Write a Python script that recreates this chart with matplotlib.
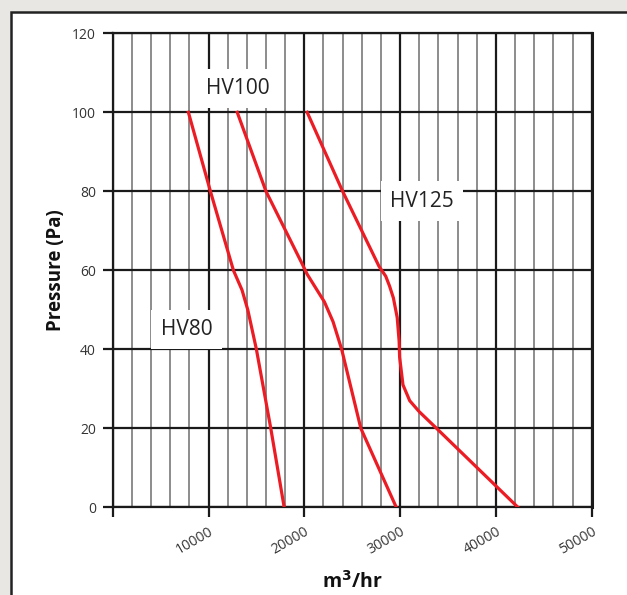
import numpy as np
import matplotlib.pyplot as plt
from matplotlib.patches import Rectangle
from matplotlib.ticker import MultipleLocator

plt.rcParams['font.family'] = ['Open Sans', 'DejaVu Sans']

# Fan curves: airflow (m3/hr) vs pressure (Pa)
hv80_flow = [7900, 10200, 12600, 13500, 14100, 15000, 16500, 17900]
hv80_pres = [100, 80, 60, 55, 50, 40, 20, 0]

hv100_flow = [13000, 16000, 19700, 20300, 21200, 22100, 23000, 23900,
              25900, 29600]
hv100_pres = [100, 80, 62, 59, 55.5, 52, 47, 40, 20, 0]

hv125_flow = [20300, 24000, 27800, 28500, 28900, 29300, 29700, 29900, 29950,
              30300, 31000, 32000, 33800, 42300]
hv125_pres = [100, 80, 61, 58.5, 56, 53, 48, 42, 38, 31, 27, 24.2, 20, 0]

xticks = [0, 10000, 20000, 30000, 40000, 50000]
xtick_labels = ['', '10000', '20000', '30000', '40000', '50000']
yticks = [0, 20, 40, 60, 80, 100, 120]

W, H = 627, 595
fig = plt.figure(figsize=(W / 100, H / 100), dpi=100)
fig.patch.set_facecolor('#e9e7e3')

# white card with dark border, running off the right/bottom edge
card = Rectangle((10.5 / W, -0.1), 2.0, 1 - 11.5 / H + 0.1,
                 transform=fig.transFigure, facecolor='white',
                 edgecolor='#222222', linewidth=1.8, zorder=-5)
fig.add_artist(card)

ax = fig.add_axes([112.7 / W, 1 - 507.3 / H, 479 / W, 474 / H])
ax.set_zorder(2)
ax.set_xlim(0, 50000)
ax.set_ylim(0, 120)

ax.xaxis.set_minor_locator(MultipleLocator(2000))
ax.set_xticks(xticks)
ax.set_xticklabels(xtick_labels, rotation=30, ha='right',
                   rotation_mode='anchor', fontsize=10.2, color='#333333')
ax.set_yticks(yticks)
ax.set_yticklabels([str(v) for v in yticks], fontsize=10, color='#333333')

ax.tick_params(axis='x', which='major', direction='out', length=7,
               width=1.6, color='#1a1a1a', pad=5)
ax.tick_params(axis='x', which='minor', length=0)
ax.tick_params(axis='y', which='major', direction='out', length=7,
               width=1.6, color='#1a1a1a', pad=5)

ax.grid(which='major', axis='both', color='#1a1a1a', linewidth=1.6, zorder=1)
ax.grid(which='minor', axis='x', color='#6e6e6e', linewidth=1.1, zorder=1)
ax.set_axisbelow(True)

for side in ['left', 'right', 'top', 'bottom']:
    ax.spines[side].set_color('#1a1a1a')
    ax.spines[side].set_linewidth(1.6)
ax.spines['right'].set_linewidth(2.2)

red = '#ec1c24'
ax.plot(hv80_flow, hv80_pres, color=red, linewidth=2.3, zorder=4,
        solid_joinstyle='round')
ax.plot(hv100_flow, hv100_pres, color=red, linewidth=2.3, zorder=4,
        solid_joinstyle='round')
ax.plot(hv125_flow, hv125_pres, color=red, linewidth=2.3, zorder=4,
        solid_joinstyle='round')

box = dict(boxstyle='square,pad=0.45', facecolor='white', edgecolor='none')
ax.text(13100, 106, 'HV100', fontsize=15, color='#222222', ha='center',
        va='center', bbox=box, zorder=3)
ax.text(7700, 45, 'HV80', fontsize=15, color='#222222', ha='center',
        va='center', bbox=box, zorder=3)
ax.text(32300, 77.5, 'HV125', fontsize=15, color='#222222', ha='center',
        va='center', bbox=box, zorder=3)

ax.set_ylabel('Pressure (Pa)', fontsize=13.5, fontweight='bold',
              color='#111111', labelpad=4)
ax.set_xlabel('m$^\\mathbf{3}$/hr', fontsize=14, fontweight='bold',
              color='#111111', labelpad=10)

fig.savefig('out.png', dpi=100, facecolor=fig.get_facecolor())
